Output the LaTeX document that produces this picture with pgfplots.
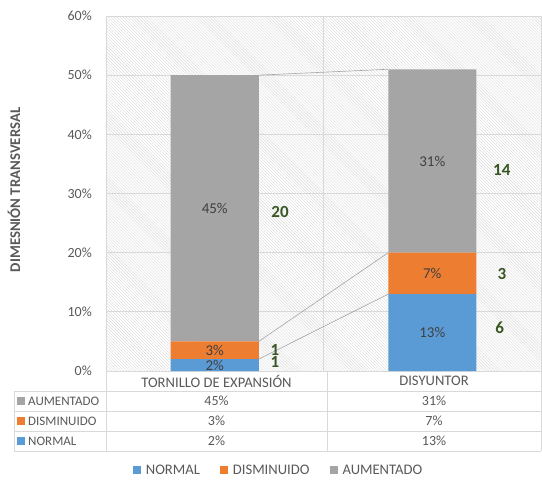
\documentclass[border=0pt]{standalone}
\usepackage{pgfplots}
\pgfplotsset{compat=1.18}
\usepackage{fontspec}
\setmainfont{Carlito}
\usetikzlibrary{patterns}
\definecolor{cblue}{HTML}{5B9BD5}
\definecolor{corange}{HTML}{ED7D31}
\definecolor{cgray}{HTML}{A5A5A5}
\definecolor{ctext}{HTML}{595959}
\definecolor{cgrid}{HTML}{D9D9D9}
\definecolor{cgreen}{HTML}{375623}
\definecolor{clabel}{HTML}{404040}
\pgfplotsset{
  base/.style={
    scale only axis, width=435bp, height=355bp,
    xmin=-0.5, xmax=1.5, ymin=0, ymax=60,
    clip=false,
  }
}
\begin{document}
\begin{tikzpicture}[font=\fontsize{13bp}{15bp}\selectfont]
\useasboundingbox (-106bp,-109bp) rectangle (436bp,371bp);
\begin{axis}[base,
  ybar stacked, bar width=88bp,
  axis background/.style={pattern=north west lines, pattern color=cgrid},
  axis line style={draw=cgrid},
  xtick={0.5}, xticklabels={}, xmajorgrids, ymajorgrids,
  grid style={draw=cgrid, line width=0.8bp},
  major tick length=0,
  ytick={0,10,...,60},
  yticklabel={\pgfmathprintnumber{\tick}\%},
  yticklabel style={text=ctext, font=\fontsize{14bp}{16bp}\selectfont, inner sep=0pt, xshift=-14bp},
  /pgf/number format/assume math mode=true,
  ylabel={DIMESNIÓN TRANSVERSAL},
  every axis y label/.style={at={(axis description cs:-0.2115,0.51)}, rotate=90, anchor=center, font=\bfseries\fontsize{14.8bp}{16bp}\selectfont, text=ctext},
  legend style={at={(axis description cs:0.3966,-0.279)}, anchor=center, draw=none, fill=none, legend columns=3, font=\fontsize{14.6bp}{17bp}\selectfont, text=ctext,
    /tikz/column 1/.style={column sep=3bp},
    /tikz/column 2/.style={column sep=18bp},
    /tikz/column 3/.style={column sep=3bp},
    /tikz/column 4/.style={column sep=18bp},
    /tikz/column 5/.style={column sep=3bp}},
  legend image code/.code={\fill[#1] (0bp,-4bp) rectangle (8bp,4bp);},
]
\addplot[fill=cblue, draw=none] coordinates {(0,2) (1,13)};
\addplot[fill=corange, draw=none] coordinates {(0,3) (1,7)};
\addplot[fill=cgray, draw=none] coordinates {(0,45) (1,31)};
\legend{NORMAL, DISMINUIDO, AUMENTADO}
\end{axis}
\begin{axis}[base, hide axis]
\addplot[draw=cgray, line width=0.6bp, sharp plot, mark=none] coordinates {(0.2023,2) (0.7977,13)};
\addplot[draw=cgray, line width=0.6bp, sharp plot, mark=none] coordinates {(0.2023,5) (0.7977,20)};
\addplot[draw=cgray, line width=0.6bp, sharp plot, mark=none] coordinates {(0.2023,50) (0.7977,51)};
\addplot[draw=none, mark=none, nodes near coords, point meta=explicit symbolic,
  every node near coord/.style={anchor=center, text=clabel, font=\fontsize{15bp}{17bp}\selectfont, inner sep=0pt}]
  coordinates {(0,1) [2\%] (0,3.5) [3\%] (0,27.5) [45\%] (1,6.5) [13\%] (1,16.5) [7\%] (1,35.5) [31\%]};
\addplot[draw=none, mark=none, nodes near coords, point meta=explicit symbolic,
  every node near coord/.style={anchor=center, text=cgreen, font=\bfseries\fontsize{17bp}{19bp}\selectfont, inner sep=0pt}]
  coordinates {(0.277,1.5) [1] (0.277,3.6) [1] (0.30,26.9) [20] (1.31,7.3) [6] (1.32,16.4) [3] (1.32,34.0) [14]};
\end{axis}
\begin{scope}[draw=cgrid, line width=0.8bp]
\draw (-92bp,-20bp) -- (435bp,-20bp);
\draw (-92bp,-40bp) -- (435bp,-40bp);
\draw (-92bp,-60bp) -- (435bp,-60bp);
\draw (-92bp,-80bp) -- (435bp,-80bp);
\draw (-92bp,-20bp) -- (-92bp,-80bp);
\draw (0bp,0bp) -- (0bp,-80bp);
\draw (221bp,0bp) -- (221bp,-80bp);
\draw (435bp,0bp) -- (435bp,-80bp);
\end{scope}
\begin{scope}[every node/.style={text=ctext, inner sep=0pt, anchor=center}]
\node[font=\fontsize{14.6bp}{16bp}\selectfont] at (110.5bp,-10bp) {TORNILLO DE EXPANSIÓN};
\node[font=\fontsize{14.6bp}{16bp}\selectfont] at (328bp,-10bp) {DISYUNTOR};
\begin{scope}[every node/.append style={font=\fontsize{14bp}{16bp}\selectfont}]
\node at (110.5bp,-30bp) {45\%};
\node at (328bp,-30bp) {31\%};
\node at (110.5bp,-50bp) {3\%};
\node at (328bp,-50bp) {7\%};
\node at (110.5bp,-70bp) {2\%};
\node at (328bp,-70bp) {13\%};
\end{scope}
\fill[cgray] (-89bp,-34bp) rectangle (-81bp,-26bp);
\fill[corange] (-89bp,-54bp) rectangle (-81bp,-46bp);
\fill[cblue] (-89bp,-74bp) rectangle (-81bp,-66bp);
\node[anchor=west] at (-78bp,-30bp) {AUMENTADO};
\node[anchor=west] at (-78bp,-50bp) {DISMINUIDO};
\node[anchor=west] at (-78bp,-70bp) {NORMAL};
\end{scope}
\end{tikzpicture}
\end{document}
